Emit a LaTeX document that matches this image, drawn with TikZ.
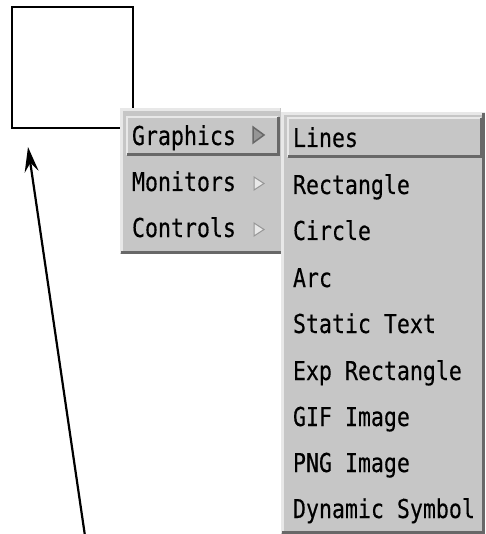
\documentclass[tikz,border=0pt]{standalone}
\usepackage{fontspec}
\newfontfamily\menufont[FakeStretch=0.83,FakeBold=0.3]{DejaVu Sans Mono}
\usetikzlibrary{arrows.meta}
\definecolor{menubg}{RGB}{198,198,198}
\definecolor{menulight}{RGB}{232,232,232}
\definecolor{menudark}{RGB}{104,104,104}
\definecolor{markmid}{RGB}{150,150,150}
\begin{document}
\begin{tikzpicture}[x=1pt,y=-1pt,
  hilite/.style={line width=2.5pt, menulight},
  shade/.style={line width=3pt, menudark},
  item/.style={anchor=base west, inner sep=0pt, outer sep=0pt,
    font=\menufont\fontsize{26pt}{26pt}\selectfont},
  canvasbox/.style={draw, line width=2pt, inner sep=0pt, outer sep=0pt,
    anchor=north west, minimum width=121pt, minimum height=121pt},
  pointer/.style={line width=2.2pt, -{Stealth[length=25pt,width=14pt,inset=9pt]}},
  markerlight/.style={fill=menulight, draw=markmid, line width=1pt},
  markerdark/.style={fill=markmid, draw=menudark, line width=1.5pt}]
\useasboundingbox (0,0) rectangle (485,534);

% empty drawing area
\node[canvasbox] (canvas) at (12,7) {};

% first-level menu
\fill[menubg] (120,108) rectangle (281,254);
\draw[hilite] (121.5,253) -- (121.5,109.5) -- (280,109.5);
\draw[shade] (121,252.5) -- (281,252.5);
% raised (selected) entry
\draw[hilite] (127,155) -- (127,117) -- (278,117);
\draw[shade] (127,155) -- (278.5,155) -- (278.5,117);

\node[item] (graphics) at (132,145) {Graphics};
\node[item] (monitors) at (132,191) {Monitors};
\node[item] (controls) at (132,237) {Controls};

% cascade markers
\draw[markerdark] (253,127) -- (264,135) -- (253,143) -- cycle;
\draw[markerlight] (254,177) -- (264,183.5) -- (254,190) -- cycle;
\draw[markerlight] (254,223) -- (264,229.5) -- (254,236) -- cycle;

% second-level menu
\fill[menubg] (281,112) rectangle (485,534);
\draw[hilite] (282.5,533) -- (282.5,113.5) -- (485,113.5);
\draw[shade] (282,532.5) -- (485,532.5);
\draw[shade] (483.5,113) -- (483.5,533);
% raised (selected) entry
\draw[hilite] (288,157) -- (288,118) -- (481,118);
\draw[shade] (288,157) -- (481.5,157) -- (481.5,118);

\node[item] (lines)   at (293,147) {Lines};
\node[item] (rect)    at (293,194) {Rectangle};
\node[item] (circle)  at (293,240) {Circle};
\node[item] (arc)     at (293,287) {Arc};
\node[item] (stext)   at (293,333) {Static Text};
\node[item] (exprect) at (293,380) {Exp Rectangle};
\node[item] (gif)     at (293,426) {GIF Image};
\node[item] (png)     at (293,472) {PNG Image};
\node[item] (dynsym)  at (293,518) {Dynamic Symbol};

% pointer towards the drawing area
\coordinate (tail) at (85,536);
\coordinate (tip) at (28,147);
\draw[pointer] (tail) -- (tip);
\end{tikzpicture}
\end{document}
